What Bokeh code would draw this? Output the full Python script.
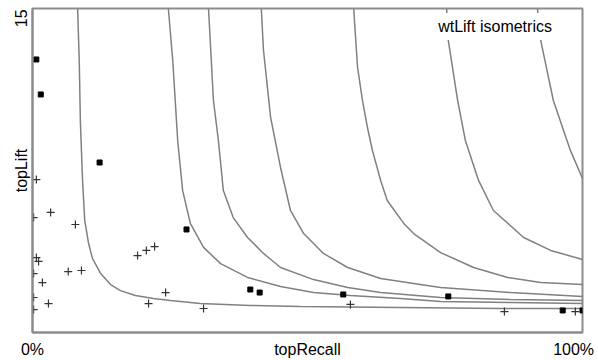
from bokeh.plotting import figure
from bokeh.models import Range1d, FixedTicker, Label
from bokeh.embed import file_html
from bokeh.resources import INLINE

# ---- data ----
square_recall = [0.007, 0.015, 0.122, 0.280, 0.396, 0.413, 0.565, 0.756, 0.964, 1.0]
square_lift = [12.64, 11.02, 7.87, 4.77, 1.99, 1.85, 1.76, 1.67, 1.02, 1.02]

plus_recall = [0.007, 0.002, 0.033, 0.078, 0.007, 0.011, 0.002, 0.065, 0.089, 0.018,
               0.002, 0.029, 0.002, 0.191, 0.207, 0.222, 0.242, 0.211, 0.311, 0.578,
               0.858, 0.987]
plus_lift = [7.08, 5.32, 5.56, 5.00, 3.47, 3.29, 2.73, 2.82, 2.87, 2.31,
             1.62, 1.34, 1.06, 3.56, 3.80, 3.98, 1.85, 1.34, 1.11, 1.30,
             0.97, 0.97]

iso1_recall = [0.082, 0.085, 0.087, 0.091, 0.095, 0.102, 0.109, 0.124, 0.142, 0.160,
               0.187, 0.220, 0.251, 0.305, 0.396, 0.487, 0.669, 0.851, 1.0]
iso1_lift = [15.0, 12.59, 9.81, 7.04, 5.19, 4.12, 3.43, 2.73, 2.22, 1.94,
             1.71, 1.57, 1.48, 1.34, 1.25, 1.20, 1.16, 1.11, 1.11]

iso2_recall = [0.247, 0.255, 0.264, 0.273, 0.287, 0.311, 0.342, 0.391, 0.451, 0.511,
               0.578, 0.669, 0.742, 0.869, 1.0]
iso2_lift = [15.0, 12.59, 8.89, 6.57, 5.05, 3.94, 3.19, 2.55, 2.13, 1.85,
             1.71, 1.57, 1.44, 1.39, 1.34]

iso3_recall = [0.320, 0.329, 0.338, 0.347, 0.365, 0.391, 0.420, 0.451, 0.511, 0.573,
               0.633, 0.742, 0.869, 1.0]
iso3_lift = [15.0, 10.74, 8.89, 6.57, 5.32, 4.40, 3.66, 3.01, 2.45, 2.08,
             1.85, 1.62, 1.53, 1.48]

iso4_recall = [0.416, 0.420, 0.433, 0.451, 0.469, 0.493, 0.529, 0.573, 0.633, 0.693,
               0.742, 0.869, 1.0]
iso4_lift = [15.0, 13.06, 9.95, 7.64, 5.65, 4.58, 3.66, 3.01, 2.50, 2.27,
             2.08, 1.85, 1.67]

iso5_recall = [0.584, 0.591, 0.600, 0.609, 0.618, 0.633, 0.645, 0.675, 0.693, 0.742,
               0.802, 0.864, 0.924, 1.0]
iso5_lift = [15.0, 12.27, 10.74, 9.49, 8.43, 7.04, 6.11, 5.05, 4.58, 3.70,
             3.01, 2.55, 2.31, 2.22]

iso6_recall = [0.753, 0.756, 0.773, 0.787, 0.811, 0.838, 0.893, 0.942, 1.0]
iso6_lift = [15.0, 13.52, 10.74, 8.89, 7.04, 5.65, 4.40, 3.80, 3.38]

iso7_recall = [0.918, 0.924, 0.947, 0.978, 1.0]
iso7_lift = [15.0, 13.52, 10.74, 8.43, 7.13]

# tick positions and texts (axis titles sit on the same line as the tick texts)
x_ticks = [0, 0.5, 1]
x_tick_labels = ["0%", "topRecall", "100%\u00a0"]
y_ticks = [7.5, 15]
y_tick_labels = ["topLift", "15\u00a0\u00a0"]

# ---- figure ----
FONT = "Liberation Sans"
AXIS_GRAY = "#8c8c8c"
CURVE_GRAY = "#808080"

p = figure(width=598, height=360, x_range=Range1d(0, 1), y_range=Range1d(0, 15),
           output_backend="svg", toolbar_location=None,
           min_border_left=32, min_border_right=16, min_border_top=8, min_border_bottom=28)

p.xgrid.visible = False
p.ygrid.visible = False
p.outline_line_color = AXIS_GRAY
p.outline_line_width = 2
p.background_fill_color = "white"
p.border_fill_color = "white"

for ax in (p.xaxis[0], p.yaxis[0]):
    ax.major_tick_out = 0
    ax.major_tick_in = 0
    ax.minor_tick_out = 0
    ax.minor_tick_in = 0
    ax.axis_line_color = AXIS_GRAY
    ax.axis_line_width = 2
    ax.major_label_text_font = FONT
    ax.major_label_text_font_size = "16px"
    ax.major_label_text_color = "black"

p.xaxis[0].ticker = FixedTicker(ticks=x_ticks, minor_ticks=[])
p.xaxis[0].major_label_overrides = {t: s for t, s in zip(x_ticks, x_tick_labels)}
p.xaxis[0].major_label_standoff = 8

p.yaxis[0].ticker = FixedTicker(ticks=y_ticks, minor_ticks=[])
p.yaxis[0].major_label_overrides = {t: s for t, s in zip(y_ticks, y_tick_labels)}
p.yaxis[0].major_label_orientation = "vertical"
p.yaxis[0].major_label_standoff = 3

# isometric curves
for rx, ly in [(iso1_recall, iso1_lift), (iso2_recall, iso2_lift), (iso3_recall, iso3_lift),
               (iso4_recall, iso4_lift), (iso5_recall, iso5_lift), (iso6_recall, iso6_lift),
               (iso7_recall, iso7_lift)]:
    p.line(rx, ly, line_color=CURVE_GRAY, line_width=1.5)

# points
p.scatter(plus_recall, plus_lift, marker="cross", size=8, line_color="#333333", line_width=1.2)
p.scatter(square_recall, square_lift, marker="square", size=5, fill_color="black",
          line_color="black")

# in-plot caption with white box
p.add_layout(Label(x=0.841, y=14.17, text="wtLift isometrics", text_align="center",
                   text_baseline="middle", text_font=FONT, text_font_size="16px",
                   text_color="black", background_fill_color="white", padding=5))

open("out.html", "w").write(file_html(p, INLINE))
